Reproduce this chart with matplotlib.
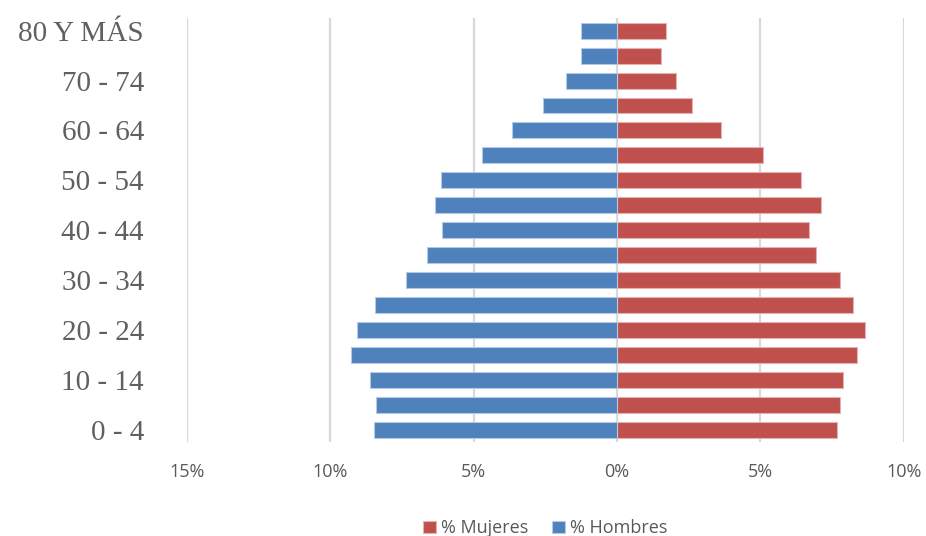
import matplotlib.pyplot as plt
from matplotlib.ticker import FuncFormatter

# -------- Data (percent of population by age group) --------
grupos = ["0 - 4", "5 - 9", "10 - 14", "15 - 19", "20 - 24", "25 - 29",
          "30 - 34", "35 - 39", "40 - 44", "45 - 49", "50 - 54", "55 - 59",
          "60 - 64", "65 - 69", "70 - 74", "75 - 79", "80 Y MÁS"]
hombres = [8.49, 8.42, 8.63, 9.29, 9.06, 8.44, 7.36, 6.62, 6.10, 6.34,
           6.13, 4.70, 3.68, 2.58, 1.77, 1.25, 1.25]
mujeres = [7.67, 7.76, 7.89, 8.36, 8.66, 8.24, 7.78, 6.93, 6.68, 7.10,
           6.43, 5.09, 3.63, 2.63, 2.06, 1.53, 1.72]
xticks = [-15, -10, -5, 0, 5, 10]

AZUL = "#4F81BD"
ROJO = "#C0504D"
GRIS = "#595959"
SANS = ["Open Sans", "DejaVu Sans"]

fig = plt.figure(figsize=(9.26, 5.36), dpi=100)
ax = fig.add_axes([0.202, 0.175, 0.774, 0.791])

pos = list(range(len(grupos)))
ax.barh(pos, mujeres, height=0.64, color=ROJO, edgecolor="#E3B3B2",
        linewidth=0.8, label="% Mujeres", zorder=3)
ax.barh(pos, [-v for v in hombres], height=0.64, color=AZUL,
        edgecolor="#B4C9E3", linewidth=0.8, label="% Hombres", zorder=3)

ax.set_xlim(-15, 10)
ax.set_ylim(-0.5, len(grupos) - 0.5)

# -------- Axes styling --------
ax.set_xticks(xticks)
ax.xaxis.set_major_formatter(FuncFormatter(lambda v, p: f"{abs(int(v))}%"))
ax.grid(axis="x", color="#D9D9D9", linewidth=1.6, zorder=0)
for s in ax.spines.values():
    s.set_visible(False)

ax.set_yticks(pos[::2])
ax.set_yticklabels(grupos[::2], family=["Liberation Serif", "DejaVu Serif"],
                   fontsize=21, color="#606060")
ax.tick_params(axis="y", length=0, pad=31)
ax.tick_params(axis="x", length=0, pad=15, labelcolor=GRIS)
for lbl in ax.get_xticklabels():
    lbl.set_family(SANS)
    lbl.set_fontsize(13)

leg = ax.legend(loc="center", bbox_to_anchor=(0.5, -0.203), ncol=2,
                frameon=False, handlelength=0.7, handleheight=0.7,
                handletextpad=0.3, columnspacing=1.3,
                prop={"family": SANS, "size": 13})
for t in leg.get_texts():
    t.set_color(GRIS)

fig.savefig("out.png", dpi=100)
